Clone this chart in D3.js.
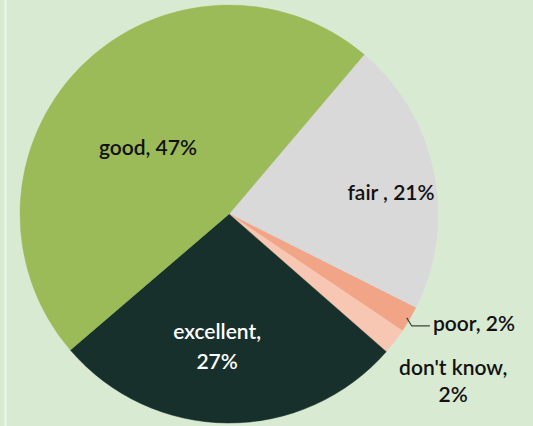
<!DOCTYPE html>
<html>
<head>
<meta charset="utf-8">
<script src="https://cdn.jsdelivr.net/npm/d3@7/dist/d3.min.js"></script>
<style>
  html, body { margin: 0; padding: 0; background: #d9ead3; }
  svg { display: block; }
  text { font-family: Lato, "Open Sans", sans-serif; font-size: 21px; font-weight: 600; }
</style>
</head>
<body>
<svg id="chart" width="533" height="426"></svg>
<script>
// Survey answers, clockwise from the "fair" slice
const categories = ["fair", "poor", "don't know", "excellent", "good"];
const shares = [21, 2, 2, 27, 47];
const labelLines = [["fair , 21%"], ["poor, 2%"], ["don't know,", "2%"], ["excellent,", "27%"], ["good, 47%"]];
const colors = ["#d9d9d9", "#f2a486", "#f7c7b3", "#17302b", "#9bbb59"];
const textColors = ["#111", "#111", "#111", "#fff", "#111"];

const W = 533, H = 426;
const cx = 229, cy = 214, R = 209;
const startDeg = 40.3;

// label placement: radius factor, angle shift (deg), line spacing
const labelLayout = [
  { k: 0.783, shift: 3.4,  gap: 0 },
  { k: 1.104, shift: -2.4, gap: 0, leader: true },
  { k: 1.334, shift: -1.1, gap: 27 },
  { k: 0.629, shift: 4.9,  gap: 30 },
  { k: 0.506, shift: -4.9, gap: 0 }
];

const svg = d3.select("#chart");
svg.append("rect").attr("width", W).attr("height", H).attr("fill", "#d9ead3");
// thin light rule at the left edge of the frame
svg.append("line")
  .attr("x1", 5.5).attr("x2", 5.5).attr("y1", 0).attr("y2", H)
  .attr("stroke", "#eef6eb").attr("stroke-width", 2);

const rad = d => d * Math.PI / 180;
const pie = d3.pie().sort(null).value(d => d)
  .startAngle(rad(startDeg)).endAngle(rad(startDeg + 360));
const arcs = pie(shares);
const arc = d3.arc().innerRadius(0).outerRadius(R);

const g = svg.append("g").attr("transform", `translate(${cx},${cy})`);
g.selectAll("path.slice")
  .data(arcs)
  .join("path")
  .attr("class", "slice")
  .attr("d", arc)
  .attr("fill", (d, i) => colors[i])
  .attr("stroke", (d, i) => colors[i])
  .attr("stroke-width", 0.5);

const polar = (a, r) => [Math.sin(a) * r, -Math.cos(a) * r];

arcs.forEach((d, i) => {
  const L = labelLayout[i];
  const mid = (d.startAngle + d.endAngle) / 2;
  const a = mid + rad(L.shift);
  const [lx, ly] = polar(a, R * L.k);
  const lines = labelLines[i];
  const t = g.append("text")
    .attr("fill", textColors[i])
    .attr("text-anchor", L.leader ? "start" : "middle")
    .attr("dominant-baseline", "central");
  lines.forEach((s, j) => {
    t.append("tspan")
      .attr("x", lx)
      .attr("y", ly + (j - (lines.length - 1) / 2) * L.gap)
      .text(s);
  });
  if (L.leader) {
    const [ex, ey] = polar(mid, R * 0.985);
    const tx = lx - 3;
    g.append("path")
      .attr("d", `M${ex},${ey} L${ex + 5},${ly + 4} L${tx},${ly + 4}`)
      .attr("fill", "none")
      .attr("stroke", "#404040")
      .attr("stroke-width", 1.2);
  }
});
</script>
</body>
</html>
